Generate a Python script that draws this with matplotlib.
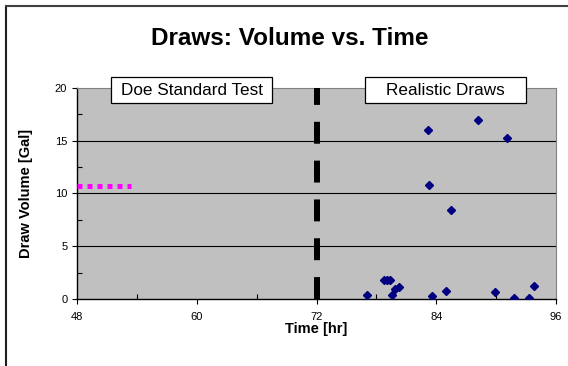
import matplotlib
matplotlib.use('Agg')
import matplotlib.pyplot as plt
from matplotlib.patches import Rectangle
from matplotlib.lines import Line2D
from matplotlib.ticker import MultipleLocator

plt.rcParams['font.family'] = ['Liberation Sans', 'DejaVu Sans']

# Realistic draws (time in hr, volume in gal)
draw_time = [77.1, 78.8, 79.1, 79.4, 79.6, 79.9, 80.3, 83.2, 83.3, 83.6,
             85.0, 85.5, 88.2, 89.9, 91.1, 91.8, 93.3, 93.8]
draw_volume = [0.35, 1.8, 1.8, 1.8, 0.4, 0.95, 1.1, 16.0, 10.8, 0.3,
               0.8, 8.4, 17.0, 0.7, 15.3, 0.1, 0.1, 1.25]

# DOE standard test draw
doe_time = [48, 53.4]
doe_volume = [10.7, 10.7]

# divider between the two test periods
divider_time = [72, 72]
divider_volume = [0, 20]

section_labels = ['Doe Standard Test', 'Realistic Draws']
x_ticks = [48, 60, 72, 84, 96]
y_ticks = [0, 5, 10, 15, 20]

fig = plt.figure(figsize=(5.68, 3.66), dpi=100)
ax = fig.add_axes([0.1356, 0.1831, 0.8433, 0.5765])
ax.set_facecolor('#C0C0C0')

ax.set_xlim(48, 96)
ax.set_ylim(0, 20)
ax.set_xticks(x_ticks)
ax.set_yticks(y_ticks)
ax.xaxis.set_minor_locator(MultipleLocator(6))
ax.yaxis.set_minor_locator(MultipleLocator(2.5))
ax.tick_params(which='major', direction='out', length=3.5, width=0.8,
               labelsize=8, color='black')
ax.tick_params(which='minor', direction='in', length=3.5, width=0.8)
ax.tick_params(axis='x', pad=6)

for v in y_ticks[1:-1]:
    ax.axhline(v, color='black', lw=0.8, zorder=1)

ax.plot(doe_time, doe_volume, color='#FF00FF', lw=3.6,
        linestyle=(0, (1, 1)), solid_capstyle='butt', zorder=3)
ax.plot(divider_time, divider_volume, color='black', lw=4.3,
        linestyle=(0, (3.67, 2.83)), zorder=3, clip_on=False)
ax.plot(draw_time, draw_volume, linestyle='none', marker='D',
        markersize=4.0, color='#000080', zorder=4)

for sp in ['top', 'right']:
    ax.spines[sp].set_color('#808080')
for sp in ['left', 'bottom']:
    ax.spines[sp].set_color('black')
    ax.spines[sp].set_linewidth(1.0)

# section label boxes sitting on the top edge of the plot
box_x = [0.071, 0.601]
for bx, label in zip(box_x, section_labels):
    ax.add_patch(Rectangle((bx, 0.930), 0.337, 0.123, transform=ax.transAxes,
                           facecolor='white', edgecolor='black', lw=0.9,
                           clip_on=False, zorder=5))
    ax.text(bx + 0.1685, 0.990, label, transform=ax.transAxes, ha='center',
            va='center', fontsize=12.3, zorder=6)

ax.set_xlabel('Time [hr]', fontsize=10.5, fontweight='bold')
ax.set_ylabel('Draw Volume [Gal]', fontsize=10.5, fontweight='bold')
ax.yaxis.set_label_coords(-0.092, 0.5)
ax.xaxis.set_label_coords(0.5, -0.109)

fig.text(0.51, 0.896, 'Draws: Volume vs. Time', ha='center', va='center',
         fontsize=17.5, fontweight='bold')

# chart border (right and bottom sides fall outside the picture)
fig.add_artist(Line2D([6 / 568, 6 / 568], [0, 1 - 6 / 366], color='#202020', lw=1.5))
fig.add_artist(Line2D([6 / 568, 1], [1 - 6 / 366, 1 - 6 / 366], color='#404040', lw=1.5))

fig.savefig('out.png', dpi=100)
